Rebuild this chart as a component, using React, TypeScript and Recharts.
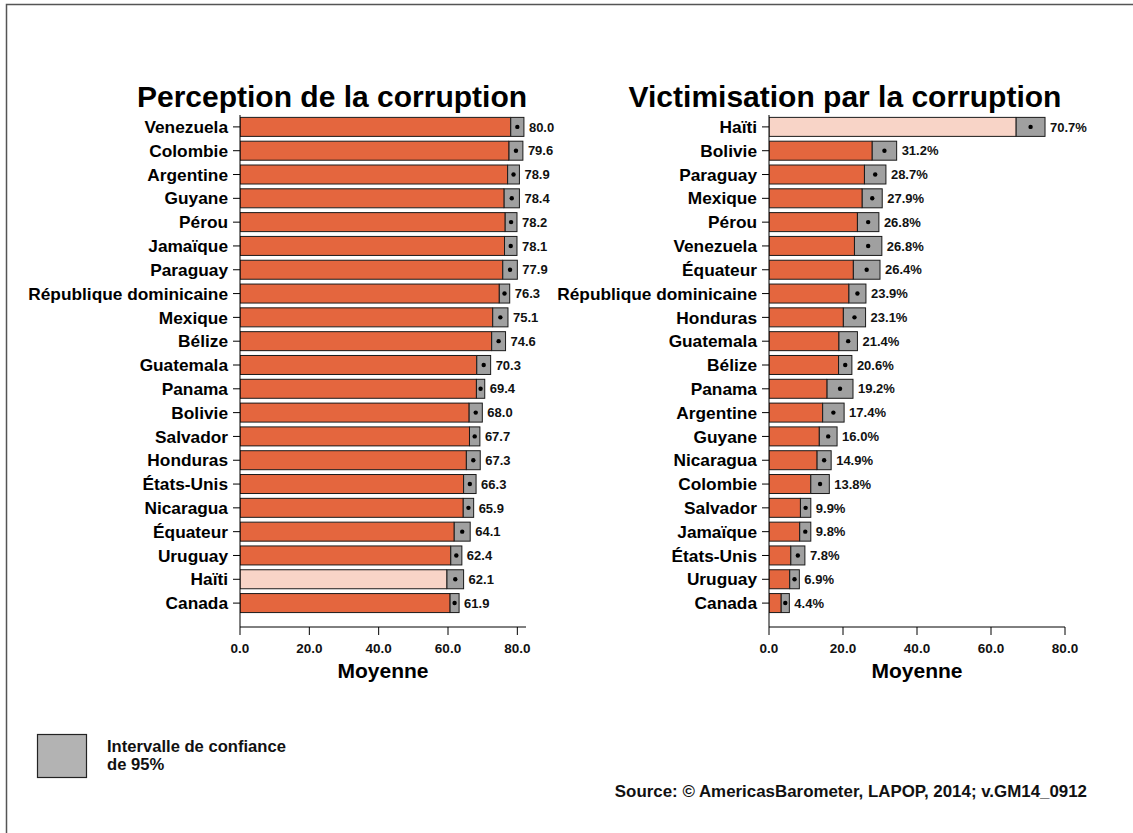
import React from "react";
import { BarChart, Bar, XAxis, YAxis, Cell, LabelList } from "recharts";

// Perception de la corruption (moyenne, IC 95%)
const perceptionCountries = [
  "Venezuela", "Colombie", "Argentine", "Guyane", "Pérou", "Jamaïque", "Paraguay",
  "République dominicaine", "Mexique", "Bélize", "Guatemala", "Panama", "Bolivie",
  "Salvador", "Honduras", "États-Unis", "Nicaragua", "Équateur", "Uruguay", "Haïti", "Canada",
];
const perceptionMeans = [80.0, 79.6, 78.9, 78.4, 78.2, 78.1, 77.9, 76.3, 75.1, 74.6, 70.3, 69.4, 68.0, 67.7, 67.3, 66.3, 65.9, 64.1, 62.4, 62.1, 61.9];
const perceptionLow = [78.1, 77.6, 77.2, 76.2, 76.5, 76.3, 75.8, 74.8, 72.9, 72.6, 68.3, 68.2, 66.1, 66.2, 65.3, 64.5, 64.4, 61.8, 60.8, 59.7, 60.6];
const perceptionHigh = [81.9, 81.6, 80.6, 80.6, 79.9, 79.9, 80.0, 77.8, 77.3, 76.6, 72.3, 70.6, 69.9, 69.2, 69.3, 68.1, 67.4, 66.4, 64.0, 64.5, 63.2];

// Victimisation par la corruption (%)
const victimCountries = [
  "Haïti", "Bolivie", "Paraguay", "Mexique", "Pérou", "Venezuela", "Équateur",
  "République dominicaine", "Honduras", "Guatemala", "Bélize", "Panama", "Argentine",
  "Guyane", "Nicaragua", "Colombie", "Salvador", "Jamaïque", "États-Unis", "Uruguay", "Canada",
];
const victimMeans = [70.7, 31.2, 28.7, 27.9, 26.8, 26.8, 26.4, 23.9, 23.1, 21.4, 20.6, 19.2, 17.4, 16.0, 14.9, 13.8, 9.9, 9.8, 7.8, 6.9, 4.4];
const victimLow = [66.8, 27.9, 25.8, 25.2, 23.9, 23.1, 22.8, 21.6, 20.1, 18.9, 18.8, 15.7, 14.5, 13.6, 13.0, 11.3, 8.5, 8.3, 5.9, 5.6, 3.3];
const victimHigh = [74.6, 34.5, 31.6, 30.6, 29.7, 30.5, 30.0, 26.2, 26.1, 23.9, 22.4, 22.7, 20.3, 18.4, 16.8, 16.3, 11.3, 11.3, 9.7, 8.2, 5.5];

const xTicks = [0, 20, 40, 60, 80];
const highlight = "Haïti";

const FONT = "'Liberation Sans', Arial, Helvetica, sans-serif";
const ORANGE = "#e4663e";
const LIGHT = "#f8d4c7";
const GRAY = "#a0a0a0";

const buildRows = (names: string[], means: number[], lows: number[], highs: number[]) =>
  names.map((country, i) => ({
    country,
    mean: means[i],
    low: lows[i],
    span: highs[i] - lows[i],
  }));

const perceptionRows = buildRows(perceptionCountries, perceptionMeans, perceptionLow, perceptionHigh);
const victimRows = buildRows(victimCountries, victimMeans, victimLow, victimHigh);

// gray CI box with the mean dot inside
const CiShape = (props: any) => {
  const { x, y, width, height, payload } = props;
  const cx = x + (width * (payload.mean - payload.low)) / payload.span;
  return (
    <g>
      <rect x={x} y={y} width={width} height={height} fill={GRAY} stroke="#1a1a1a" strokeWidth={1} />
      <circle cx={cx} cy={y + height / 2} r={2.2} fill="#000" />
    </g>
  );
};

const valueLabel = (suffix: string) => (props: any) => {
  const { x, y, width, height, index } = props;
  const rows = suffix ? victimRows : perceptionRows;
  return (
    <text
      x={x + width + 5}
      y={y + height / 2}
      dy="0.36em"
      fontSize={13}
      fontWeight={700}
      fontFamily={FONT}
      fill="#111"
    >
      {rows[index].mean.toFixed(1) + suffix}
    </text>
  );
};

function Panel({ rows, suffix, domainMax, left, width, axisWidth, marginRight }: any) {
  return (
    <div style={{ position: "absolute", left, top: 0 }}>
      <BarChart
        width={width}
        height={700}
        data={rows}
        layout="vertical"
        margin={{ top: 115, right: marginRight, bottom: 13, left: 0 }}
        barCategoryGap="10%"
      >
        <XAxis
          type="number"
          domain={[0, domainMax]}
          ticks={xTicks}
          allowDataOverflow
          tickFormatter={(v: number) => v.toFixed(1)}
          stroke="#000"
          tickSize={8}
          tickMargin={8}
          height={60}
          tick={{ fill: "#111", fontSize: 13.5, fontWeight: 700, fontFamily: FONT }}
          label={{ value: "Moyenne", position: "insideBottom", offset: 9, fill: "#000", fontSize: 21, fontWeight: 700, fontFamily: FONT }}
        />
        <YAxis
          type="category"
          dataKey="country"
          width={axisWidth}
          stroke="#000"
          tickSize={7}
          tickMargin={5}
          interval={0}
          padding={{ top: 0, bottom: 12 }}
          tick={{ fill: "#000", fontSize: 17.3, fontWeight: 700, fontFamily: FONT }}
        />
        <Bar dataKey="low" stackId="ci" stroke="#1a1a1a" strokeWidth={1} isAnimationActive={false}>
          {rows.map((r: any, i: number) => (
            <Cell key={`c-${i}`} fill={r.country === highlight ? LIGHT : ORANGE} />
          ))}
        </Bar>
        <Bar dataKey="span" stackId="ci" shape={<CiShape />} isAnimationActive={false}>
          <LabelList content={valueLabel(suffix)} />
        </Bar>
      </BarChart>
    </div>
  );
}

export default function App() {
  return (
    <div style={{ position: "absolute", left: 0, top: 0, width: 1133, height: 833, background: "#fff", overflow: "hidden", fontFamily: FONT }}>
      <svg width={1133} height={833} style={{ position: "absolute", left: 0, top: 0 }}>
        <rect x={6.5} y={4.5} width={1140} height={850} fill="none" stroke="#555" strokeWidth={1.5} />
        <text x={332} y={107} textAnchor="middle" fontSize={30} fontWeight={700} fontFamily={FONT} fill="#000">
          Perception de la corruption
        </text>
        <text x={845} y={107} textAnchor="middle" fontSize={30} fontWeight={700} fontFamily={FONT} fill="#000">
          Victimisation par la corruption
        </text>
        <rect x={37.5} y={734.5} width={49} height={43} fill="#b3b3b3" stroke="#222" strokeWidth={1.2} />
        <text x={107} y={752} fontSize={16.6} fontWeight={700} fontFamily={FONT} fill="#111">Intervalle de confiance</text>
        <text x={107} y={769.5} fontSize={16.6} fontWeight={700} fontFamily={FONT} fill="#111">de 95%</text>
        <text x={1087} y={797} textAnchor="end" fontSize={16.9} fontWeight={700} fontFamily={FONT} fill="#111">
          Source: © AmericasBarometer, LAPOP, 2014; v.GM14_0912
        </text>
      </svg>
      <Panel rows={perceptionRows} suffix="" domainMax={82.5} left={0} width={560} axisWidth={240} marginRight={34} />
      <Panel rows={victimRows} suffix="%" domainMax={80} left={540} width={593} axisWidth={229} marginRight={68} />
    </div>
  );
}
